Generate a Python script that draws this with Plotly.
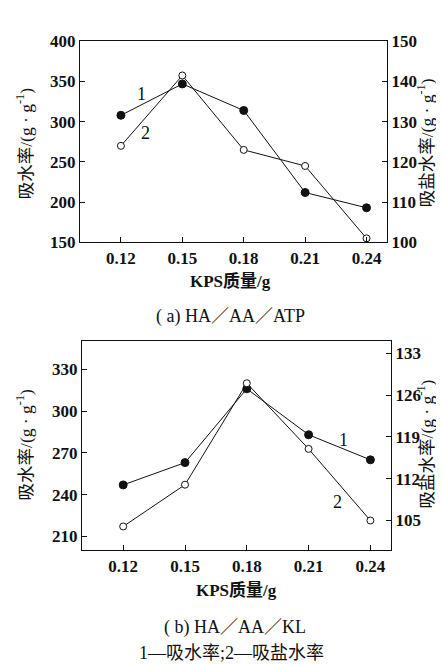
import plotly.graph_objects as go

kps = [0.12, 0.15, 0.18, 0.21, 0.24]
kps_ticks = ["0.12", "0.15", "0.18", "0.21", "0.24"]

# (a) HA/AA/ATP
a_water = [308, 347, 314, 212, 193]
a_salt = [124, 141.5, 123, 119, 101]
# (b) HA/AA/KL
b_water = [247, 263, 316, 283, 265]
b_salt = [104, 111, 128, 117, 105]

W, H = 444, 666
def fx(px): return px / W
def fy(py): return 1 - py / H

SERIF = "Liberation Serif"
CJK = "Noto Sans CJK SC"
BLACK = "#111111"

fig = go.Figure()

filled = dict(symbol="circle", size=8, color=BLACK, line=dict(color=BLACK, width=1))
opened = dict(symbol="circle", size=7, color="white", line=dict(color=BLACK, width=1))
ln = dict(color=BLACK, width=1)

fig.add_trace(go.Scatter(x=kps, y=a_water, mode="lines+markers", marker=filled, line=ln, xaxis="x", yaxis="y"))
fig.add_trace(go.Scatter(x=kps, y=a_salt, mode="lines+markers", marker=opened, line=ln, xaxis="x", yaxis="y2"))
fig.add_trace(go.Scatter(x=kps, y=b_water, mode="lines+markers", marker=filled, line=ln, xaxis="x2", yaxis="y3"))
fig.add_trace(go.Scatter(x=kps, y=b_salt, mode="lines+markers", marker=opened, line=ln, xaxis="x2", yaxis="y4"))

tickfont = dict(family=SERIF, size=17, color=BLACK, weight="bold")
common = dict(showline=True, linecolor=BLACK, linewidth=1.3, ticks="inside", ticklen=5,
              tickcolor=BLACK, tickwidth=1, showgrid=False, zeroline=False, tickfont=tickfont)

xa = dict(range=[0.10, 0.25], tickvals=kps, ticktext=kps_ticks, mirror=True, **common)
fig.update_layout(
    width=W, height=H, margin=dict(l=0, r=0, t=0, b=0),
    paper_bgcolor="white", plot_bgcolor="white", showlegend=False,
    xaxis=dict(domain=[fx(72), fx(379)], anchor="y", **xa),
    yaxis=dict(domain=[fy(232), fy(25)], anchor="x", range=[150, 400],
               tickvals=[150, 200, 250, 300, 350, 400], **common),
    yaxis2=dict(overlaying="y", side="right", anchor="x", range=[100, 150],
                tickvals=[100, 110, 120, 130, 140, 150], **common),
    xaxis2=dict(domain=[fx(74), fx(383)], anchor="y3", **xa),
    yaxis3=dict(domain=[fy(549), fy(334)], anchor="x2", range=[200, 350],
                tickvals=[210, 240, 270, 300, 330], **common),
    yaxis4=dict(overlaying="y3", side="right", anchor="x2", range=[100, 135],
                tickvals=[105, 112, 119, 126, 133], **common),
)

def ann(text, x, y, size=15, family=SERIF, angle=0, weight="normal", xanchor="center"):
    fig.add_annotation(text=text, x=fx(x), y=fy(y), xref="paper", yref="paper",
                       showarrow=False, textangle=angle, xanchor=xanchor, yanchor="middle",
                       font=dict(family=family, size=size, color=BLACK, weight=weight))

def cjk(s):
    return "<span style='font-family:Noto Sans CJK SC'>" + s + "</span>"

unit = "/(g · g<sup>-1</sup>)"
ylab_w = cjk("吸水率") + unit
ylab_s = cjk("吸盐水率") + unit
xlab = "<b>KPS</b>" + cjk("<b>质量</b>") + "<b>/g</b>"
slash = cjk("／")

# top chart texts
ann(ylab_w, 16, 130, size=17.5, angle=-90)
ann(ylab_s, 417, 130, size=17.5, angle=-90)
ann(xlab, 222, 270, size=17)
ann("1", 133, 79, size=18)
ann("2", 137, 119, size=18)
ann("( a) HA" + slash + "AA" + slash + "ATP", 222, 306, size=18)

# bottom chart texts
ann(ylab_w, 16, 440, size=17.5, angle=-90)
ann(ylab_s, 417, 440, size=17.5, angle=-90)
ann(xlab, 228, 588, size=17)
ann("1", 335, 435, size=18)
ann("2", 329, 499, size=18)
ann("( b) HA" + slash + "AA" + slash + "KL", 227, 626, size=18)
ann("1—" + cjk("吸水率") + ";2—" + cjk("吸盐水率"), 224, 653, size=18)

fig.write_html("out.html")
